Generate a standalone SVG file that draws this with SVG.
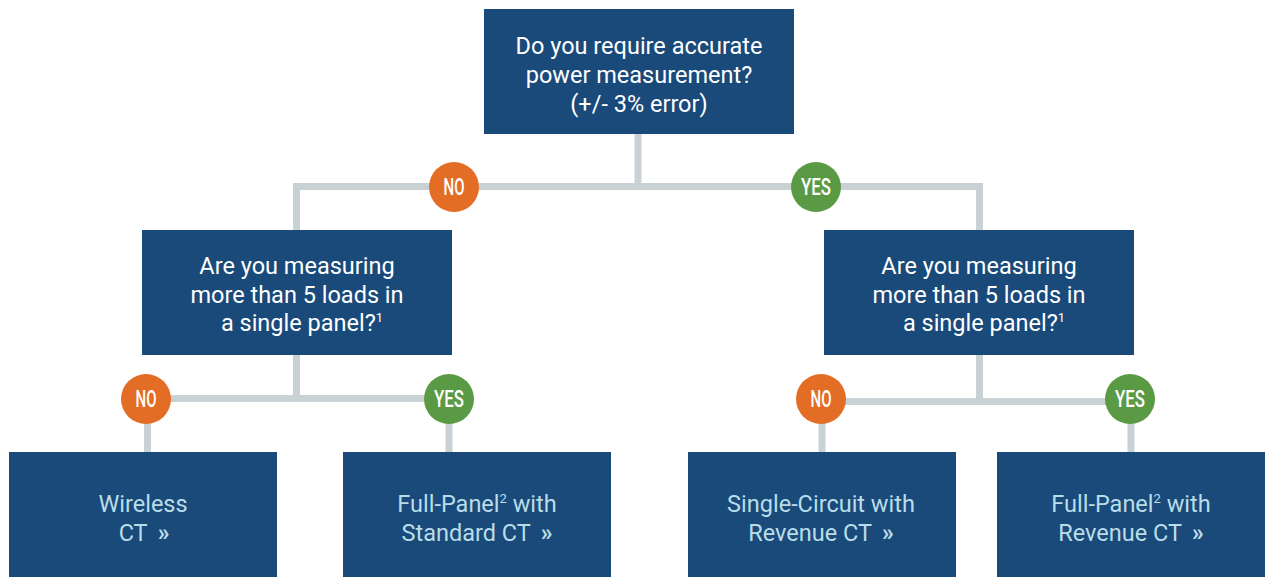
<svg xmlns="http://www.w3.org/2000/svg" width="1266" height="581" viewBox="0 0 1266 581">
<style>
.box{fill:#1a4a7a}
.q{fill:#ffffff;font-family:Roboto,"Liberation Sans",sans-serif;font-size:23.5px;text-anchor:middle}
.a{fill:#b9dde8;font-family:Roboto,"Liberation Sans",sans-serif;font-size:23.5px;text-anchor:middle}
.sup{font-size:13px}
.rr{font-weight:bold}
.conn{stroke:#c8d1d4;stroke-width:7;fill:none}
.no{fill:#e36d25}
.yes{fill:#5b9a44}
.bl{fill:#ffffff;font-family:Roboto,"Liberation Sans",sans-serif;font-size:23px;font-weight:500;text-anchor:middle}
</style>
<rect width="1266" height="581" fill="#ffffff"/>
<g id="connectors">
<path class="conn" d="M638,133 V186.5 M296.5,230 V186.5 H979.5 V230"/>
<path class="conn" d="M296.5,355 V398.5 M146,398.5 H449 M147.5,398.5 V452 M449,398.5 V452"/>
<path class="conn" d="M979.5,355 V401.5 M821,401.5 H1130 M822,401.5 V452 M1131,401.5 V452"/>
</g>
<g id="n-top">
<rect class="box" x="484" y="9" width="310" height="125"/>
<text class="q" x="639" y="54">Do you require accurate</text>
<text class="q" x="639" y="83">power measurement?</text>
<text class="q" x="639" y="112">(+/- 3% error)</text>
</g>
<g id="b-no1"><circle class="no" cx="454" cy="187" r="25"/><text class="bl" x="454" y="195" textLength="21" lengthAdjust="spacingAndGlyphs">NO</text></g>
<g id="b-yes1"><circle class="yes" cx="816" cy="187" r="25"/><text class="bl" x="816" y="195" textLength="30" lengthAdjust="spacingAndGlyphs">YES</text></g>
<g id="n-left">
<rect class="box" x="142" y="230" width="310" height="125"/>
<text class="q" x="297" y="274">Are you measuring</text>
<text class="q" x="297" y="303">more than 5 loads in</text>
<text class="q" x="302" y="331">a single panel?<tspan class="sup" dy="-9">1</tspan></text>
</g>
<g id="n-right">
<rect class="box" x="824" y="230" width="310" height="125"/>
<text class="q" x="979" y="274">Are you measuring</text>
<text class="q" x="979" y="303">more than 5 loads in</text>
<text class="q" x="984" y="331">a single panel?<tspan class="sup" dy="-9">1</tspan></text>
</g>
<g id="b-no2"><circle class="no" cx="146" cy="399" r="25"/><text class="bl" x="146" y="407" textLength="21" lengthAdjust="spacingAndGlyphs">NO</text></g>
<g id="b-yes2"><circle class="yes" cx="449" cy="399" r="25"/><text class="bl" x="449" y="407" textLength="30" lengthAdjust="spacingAndGlyphs">YES</text></g>
<g id="b-no3"><circle class="no" cx="821" cy="399" r="25"/><text class="bl" x="821" y="407" textLength="21" lengthAdjust="spacingAndGlyphs">NO</text></g>
<g id="b-yes3"><circle class="yes" cx="1130" cy="399" r="25"/><text class="bl" x="1130" y="407" textLength="30" lengthAdjust="spacingAndGlyphs">YES</text></g>
<g id="n-wireless">
<rect class="box" x="9" y="452" width="268" height="125"/>
<text class="a" x="143" y="512">Wireless</text>
<text class="a" x="144" y="541">CT<tspan class="rr" dx="10">»</tspan></text>
</g>
<g id="n-fullstd">
<rect class="box" x="343" y="452" width="268" height="125"/>
<text class="a" x="477" y="512">Full-Panel<tspan class="sup" dy="-9">2</tspan><tspan dy="9"> with</tspan></text>
<text class="a" x="477" y="541">Standard CT<tspan class="rr" dx="10">»</tspan></text>
</g>
<g id="n-single">
<rect class="box" x="688" y="452" width="268" height="125"/>
<text class="a" x="821" y="512">Single-Circuit with</text>
<text class="a" x="821" y="541">Revenue CT<tspan class="rr" dx="10">»</tspan></text>
</g>
<g id="n-fullrev">
<rect class="box" x="997" y="452" width="268" height="125"/>
<text class="a" x="1131" y="512">Full-Panel<tspan class="sup" dy="-9">2</tspan><tspan dy="9"> with</tspan></text>
<text class="a" x="1131" y="541">Revenue CT<tspan class="rr" dx="10">»</tspan></text>
</g>
</svg>
